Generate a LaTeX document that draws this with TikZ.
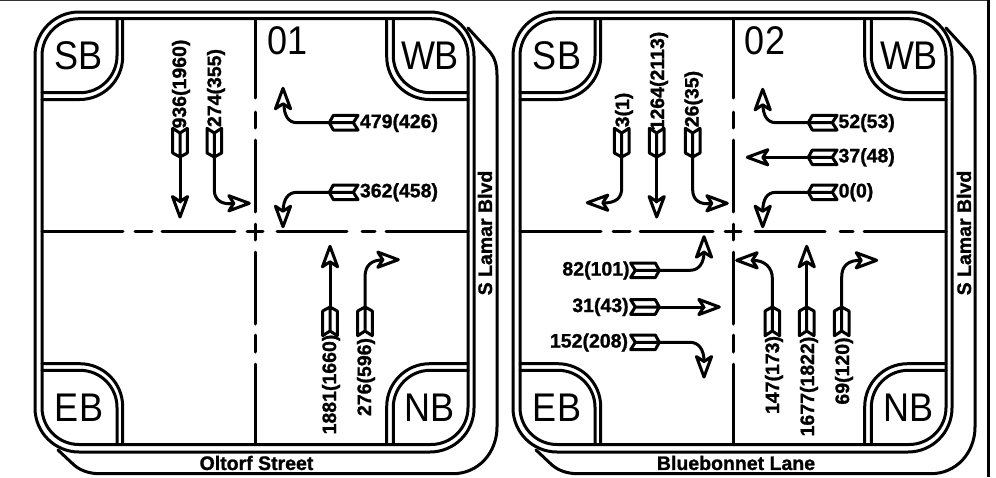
\documentclass[tikz,border=0pt]{standalone}
\usepackage{fontspec}
\setmainfont{Liberation Sans}
\newfontfamily\bigsans[FakeStretch=0.9]{Liberation Sans}
\newfontfamily\labsans[FakeBold=1.2]{Liberation Sans Bold}
\tikzset{
  x=1pt,y=-1pt,
  ln/.style={line width=3pt,line cap=round,line join=round,black},
  lab/.style={font=\labsans\fontsize{19.5}{21}\selectfont,inner sep=0pt,text=black},
  rlab/.style={lab,rotate=90},
  big/.style={font=\bigsans\fontsize{40}{42}\selectfont,inner sep=0pt,text=black},
  tailmark/.pic={\draw[ln] (0,0) -- (-4,7.3) -- (-28.7,7.3) -- (-24,0) -- (-28.7,-7.3) -- (-4,-7.3) -- cycle (-24,0) -- (0,0);},
  headmark/.pic={\draw[ln] (0,0) -- (-20.5,7.6) -- (-15.5,0) -- (-20.5,-7.6) -- cycle;}
}
\newcommand{\panelframe}{%
  \draw[ln,rounded corners=44pt] (35,12) rectangle (474,452);
  \draw[ln,rounded corners=37pt] (42,18.7) rectangle (468,444.5);
  \draw[ln,rounded corners=37pt] (117,18.7) -- (117,92.7) -- (42,92.7);
  \draw[ln,rounded corners=43pt] (122.7,18.7) -- (122.7,99.5) -- (42,99.5);
  \draw[ln,rounded corners=37pt] (393.3,18.7) -- (393.3,92.7) -- (468,92.7);
  \draw[ln,rounded corners=43pt] (386.7,18.7) -- (386.7,99.5) -- (468,99.5);
  \draw[ln,rounded corners=37pt] (117,444.5) -- (117,370.3) -- (42,370.3);
  \draw[ln,rounded corners=43pt] (122.7,444.5) -- (122.7,363.7) -- (42,363.7);
  \draw[ln,rounded corners=37pt] (393.3,444.5) -- (393.3,370.3) -- (468,370.3);
  \draw[ln,rounded corners=43pt] (386.7,444.5) -- (386.7,363.7) -- (468,363.7);
  \draw[ln] (468,28) -- (490,52) .. controls (495,58) and (497,66) .. (497,75) -- (497,427)
     .. controls (497,453) and (478,473.7) .. (453,473.7) -- (100,473.7)
     .. controls (90,473.7) and (81,471) .. (74,465) -- (58,450);
  \draw[ln] (255,18.7) -- (255,98) (255,112) -- (255,128) (255,140) -- (255,212)
     (255,224) -- (255,240) (255,252) -- (255,324) (255,335) -- (255,352) (255,364) -- (255,444.5);
  \draw[ln] (42,231.5) -- (123,231.5) (135,231.5) -- (152,231.5) (162,231.5) -- (235,231.5)
     (247,231.5) -- (263,231.5) (277,231.5) -- (347,231.5) (362,231.5) -- (375,231.5) (386,231.5) -- (468,231.5);
}
\begin{document}
\begin{tikzpicture}
\useasboundingbox (0,0) rectangle (996,477);
\fill[white] (0,0) rectangle (996,477);
\draw[line width=2pt,black!80] (0,0) -- (988,0);
\draw[ln,line cap=butt] (988,0) -- (988,477);

%% ---- panel 1 ----
\panelframe
\node[big] (sba) at (78.5,56) {SB};
\node[big] (eba) at (79,408) {EB};
\node[big] (wba) at (430,56) {WB};
\node[big] (nba) at (430,408) {NB};
\node[big] (numa) at (288,41) {01};
\node[lab] (roada) at (256.5,463) {Oltorf Street};
\node[rlab] (sidea) at (485,233) {S Lamar Blvd};

\node[rlab] (a1) at (181,84) {936(1960)};
\draw[ln] (180,157) -- (180,202);
\pic[rotate=-90] at (180,157) {tailmark};
\pic[rotate=-90] at (180,217) {headmark};

\node[rlab] (a2) at (216,88) {274(355)};
\draw[ln] (214.3,157) -- (214.3,190) .. controls (214.3,200) and (222,205) .. (233,203.5);
\pic[rotate=-90] at (214.3,157) {tailmark};
\pic at (249.3,203.3) {headmark};

\node[lab] (a3) at (399,123) {479(426)};
\draw[ln] (329.3,122.7) -- (297,122.7) .. controls (288,122.7) and (284,115) .. (284,104);
\pic[rotate=180] at (329.3,122.7) {tailmark};
\pic[rotate=90] at (283,88.3) {headmark};

\node[lab] (a4) at (399,192.3) {362(458)};
\draw[ln] (329.3,192.3) -- (297,192.3) .. controls (288,192.3) and (283.5,199) .. (283,211);
\pic[rotate=180] at (329.3,192.3) {tailmark};
\pic[rotate=-90] at (283,226.7) {headmark};

\node[rlab] (a5) at (331,384.5) {1881(1660)};
\draw[ln] (330,307) -- (330,262);
\pic[rotate=90] at (330,307) {tailmark};
\pic[rotate=90] at (330,246.3) {headmark};

\node[rlab] (a6) at (366,377) {276(596)};
\draw[ln] (365,307) -- (365,277) .. controls (365,265) and (372,259.7) .. (383,260);
\pic[rotate=90] at (365,307) {tailmark};
\pic at (398.3,259.7) {headmark};

%% ---- panel 2 ----
\begin{scope}[xshift=478pt]
\panelframe
\end{scope}
\node[big] (sbb) at (557,56) {SB};
\node[big] (ebb) at (557,408) {EB};
\node[big] (wbb) at (909,56) {WB};
\node[big] (nbb) at (908.5,408) {NB};
\node[big] (numb) at (765,41) {02};
\node[lab] (roadb) at (736,463) {Bluebonnet Lane};
\node[rlab] (sideb) at (964,233) {S Lamar Blvd};

\node[rlab] (b1) at (624,110) {3(1)};
\draw[ln] (621.7,157) -- (621.7,188) .. controls (621.7,198) and (616,203) .. (603,203);
\pic[rotate=-90] at (621.7,157) {tailmark};
\pic[rotate=180] at (587.3,202.7) {headmark};

\node[rlab] (b2) at (659,81) {1264(2113)};
\draw[ln] (656.7,157) -- (656.7,202);
\pic[rotate=-90] at (656.7,157) {tailmark};
\pic[rotate=-90] at (656.7,217) {headmark};

\node[rlab] (b3) at (693.5,99) {26(35)};
\draw[ln] (692.7,157) -- (692.7,190) .. controls (692.7,200) and (700,205) .. (711,203.5);
\pic[rotate=-90] at (692.7,157) {tailmark};
\pic at (727.3,203.3) {headmark};

\node[lab] (b4) at (866.7,123) {52(53)};
\draw[ln] (808.3,122.7) -- (776,122.7) .. controls (767,122.7) and (763,115) .. (763,105);
\pic[rotate=180] at (808.3,122.7) {tailmark};
\pic[rotate=90] at (762.7,89.3) {headmark};

\node[lab] (b5) at (866.7,157.3) {37(48)};
\draw[ln] (808.3,157.3) -- (763,157.3);
\pic[rotate=180] at (808.3,157.3) {tailmark};
\pic[rotate=180] at (747.3,157.3) {headmark};

\node[lab] (b6) at (856,192.3) {0(0)};
\draw[ln] (808.3,192.3) -- (776,192.3) .. controls (767,192.3) and (763,199) .. (762.7,211);
\pic[rotate=180] at (808.3,192.3) {tailmark};
\pic[rotate=-90] at (762.7,226.7) {headmark};

\node[rlab] (b7) at (774,375) {147(173)};
\draw[ln] (772.3,307) -- (772.3,278) .. controls (772.3,268) and (765,260) .. (752,260.3);
\pic[rotate=90] at (772.3,307) {tailmark};
\pic[rotate=180] at (736.7,260.3) {headmark};

\node[rlab] (b8) at (809,386.5) {1677(1822)};
\draw[ln] (806.7,307) -- (806.7,262);
\pic[rotate=90] at (806.7,307) {tailmark};
\pic[rotate=90] at (806.7,246.3) {headmark};

\node[rlab] (b9) at (844,371) {69(120)};
\draw[ln] (841.7,307) -- (841.7,277) .. controls (841.7,266) and (848,260) .. (861,260.3);
\pic[rotate=90] at (841.7,307) {tailmark};
\pic at (876.7,260.3) {headmark};

\node[lab] (b10) at (596,270.5) {82(101)};
\draw[ln] (659.3,270.3) -- (690,270.3) .. controls (699,270.3) and (704,263) .. (704,252);
\pic at (659.3,270.3) {tailmark};
\pic[rotate=90] at (704,236.7) {headmark};

\node[lab] (b11) at (600.5,307) {31(43)};
\draw[ln] (659.3,307) -- (704,307);
\pic at (659.3,307) {tailmark};
\pic at (719.3,307) {headmark};

\node[lab] (b12) at (589,342.5) {152(208)};
\draw[ln] (659.3,342.3) -- (690,342.3) .. controls (699,342.3) and (704,350) .. (704,361);
\pic at (659.3,342.3) {tailmark};
\pic[rotate=-90] at (704,377) {headmark};
\end{tikzpicture}
\end{document}
